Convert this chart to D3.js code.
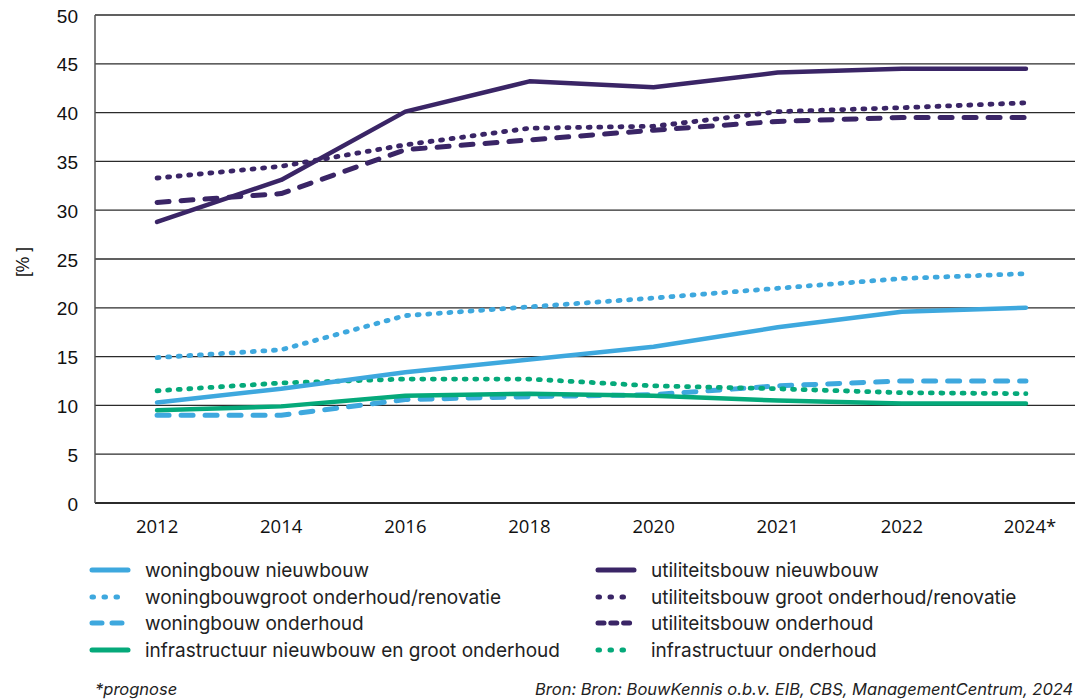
<!DOCTYPE html>
<html>
<head>
<meta charset="utf-8">
<script src="https://cdn.jsdelivr.net/npm/d3@7"></script>
<style>
  html, body { margin: 0; padding: 0; background: #fff; overflow: hidden; }
  svg { display: block; }
</style>
</head>
<body>
<svg id="chart" width="1075" height="699"></svg>
<script>
// Categories (years) and tick values
const years = ["2012", "2014", "2016", "2018", "2020", "2021", "2022", "2024*"];
const yTicks = [0, 5, 10, 15, 20, 25, 30, 35, 40, 45, 50];

// Series values (%)
const woningbouwNieuwbouw      = [10.3, 11.7, 13.4, 14.7, 16.0, 18.0, 19.6, 20.0];
const woningbouwGrootOnderhoud = [14.9, 15.7, 19.2, 20.1, 21.0, 22.0, 23.0, 23.5];
const woningbouwOnderhoud      = [9.0, 9.0, 10.6, 10.9, 11.1, 12.0, 12.5, 12.5];
const infraNieuwbouw           = [9.5, 9.9, 11.0, 11.2, 11.0, 10.5, 10.2, 10.2];
const utilNieuwbouw            = [28.8, 33.1, 40.1, 43.2, 42.6, 44.1, 44.5, 44.5];
const utilGrootOnderhoud       = [33.3, 34.5, 36.7, 38.4, 38.6, 40.1, 40.5, 41.0];
const utilOnderhoud            = [30.8, 31.7, 36.2, 37.2, 38.2, 39.1, 39.5, 39.5];
const infraOnderhoud           = [11.5, 12.3, 12.7, 12.7, 12.0, 11.7, 11.3, 11.2];

const legendLeft  = ["woningbouw nieuwbouw", "woningbouwgroot onderhoud/renovatie", "woningbouw onderhoud", "infrastructuur nieuwbouw en groot onderhoud"];
const legendRight = ["utiliteitsbouw nieuwbouw", "utiliteitsbouw groot onderhoud/renovatie", "utiliteitsbouw onderhoud", "infrastructuur onderhoud"];

const LIGHT = "#3ea8de", DARK = "#3a2566", GREEN = "#05a97a";

const series = [
  { name: legendLeft[0],  values: woningbouwNieuwbouw,      color: LIGHT, style: "solid" },
  { name: legendLeft[1],  values: woningbouwGrootOnderhoud, color: LIGHT, style: "dot" },
  { name: legendLeft[2],  values: woningbouwOnderhoud,      color: LIGHT, style: "dash" },
  { name: legendLeft[3],  values: infraNieuwbouw,           color: GREEN, style: "solid" },
  { name: legendRight[0], values: utilNieuwbouw,            color: DARK,  style: "solid" },
  { name: legendRight[1], values: utilGrootOnderhoud,       color: DARK,  style: "dot" },
  { name: legendRight[2], values: utilOnderhoud,            color: DARK,  style: "dash" },
  { name: legendRight[3], values: infraOnderhoud,           color: GREEN, style: "dot" }
];

const svg = d3.select("#chart");
const plotLeft = 95, plotTop = 15, plotBottom = 503, plotRight = 1075;

const x = d3.scalePoint().domain(years).range([plotLeft, 1088]).padding(0.5);
const y = d3.scaleLinear().domain([0, 50]).range([plotBottom, plotTop]);

// Gridlines
svg.append("g").selectAll("line").data(yTicks).join("line")
  .attr("x1", plotLeft).attr("x2", plotRight)
  .attr("y1", d => y(d)).attr("y2", d => y(d))
  .attr("stroke", "#2b2b2b").attr("stroke-width", d => d === 0 ? 1.8 : 1.3);

// Left axis line
svg.append("line").attr("x1", plotLeft).attr("x2", plotLeft)
  .attr("y1", plotTop).attr("y2", plotBottom)
  .attr("stroke", "#555").attr("stroke-width", 1.5);

// Y tick labels
svg.append("g").selectAll("text").data(yTicks).join("text")
  .attr("x", 78).attr("y", d => y(d) + 7.5)
  .attr("text-anchor", "end")
  .attr("font-family", "Liberation Sans, Arial, sans-serif")
  .attr("font-size", 19).attr("fill", "#111")
  .text(d => d);

// X tick labels
svg.append("g").selectAll("text").data(years).join("text")
  .attr("x", d => x(d) + (d.endsWith("*") ? 4 : 0)).attr("y", 533)
  .attr("text-anchor", "middle")
  .attr("font-family", "Open Sans, sans-serif")
  .attr("font-size", 18.5).attr("fill", "#111")
  .text(d => d);

// Y axis title
svg.append("text")
  .attr("transform", "translate(29,262) rotate(-90)")
  .attr("text-anchor", "middle")
  .attr("font-family", "Liberation Sans, Arial, sans-serif")
  .attr("font-size", 17.5).attr("fill", "#111")
  .text("[% ]");

function styleLine(sel, s) {
  sel.attr("fill", "none").attr("stroke", s.color)
    .attr("stroke-linejoin", "round");
  if (s.style === "solid") {
    sel.attr("stroke-width", 4.5).attr("stroke-linecap", "round");
  } else if (s.style === "dot") {
    sel.attr("stroke-width", 4.8).attr("stroke-linecap", "round")
      .attr("stroke-dasharray", "2 8.6");
  } else {
    sel.attr("stroke-width", 5).attr("stroke-linecap", "round")
      .attr("stroke-dasharray", "12 12");
  }
  return sel;
}

const line = d3.line()
  .x((d, i) => x(years[i]))
  .y(d => y(d))
  .curve(d3.curveLinear);

// Series lines (light/green first, dark on top)
const drawOrder = [2, 3, 7, 0, 1, 6, 5, 4];
drawOrder.forEach(i => {
  const s = series[i];
  styleLine(svg.append("path").attr("d", line(s.values)), s);
});

// Legend
function legendItem(s, lx, ly, tx) {
  const iconW = 38;
  const l = svg.append("line")
    .attr("x1", lx + 2).attr("x2", lx + iconW)
    .attr("y1", ly).attr("y2", ly);
  if (s.style === "solid") {
    l.attr("stroke", s.color).attr("stroke-width", 5).attr("stroke-linecap", "round");
  } else if (s.style === "dot") {
    l.attr("stroke", s.color).attr("stroke-width", 5).attr("stroke-linecap", "round")
      .attr("stroke-dasharray", "1.5 10.5");
  } else {
    l.attr("stroke", s.color).attr("stroke-width", 5).attr("stroke-linecap", "round")
      .attr("stroke-dasharray", s.color === DARK ? "6 6.8" : "10 10");
  }
  svg.append("text").attr("x", tx).attr("y", ly + 6.5)
    .attr("font-family", "Inter, sans-serif")
    .attr("font-size", 19).attr("fill", "#222")
    .text(s.name);
}
const rowY = [570, 597, 623, 650];
series.slice(0, 4).forEach((s, i) => legendItem(s, 90, rowY[i], 145));
series.slice(4).forEach((s, i) => legendItem(s, 596, rowY[i], 651));

// Footnotes
svg.append("text").attr("x", 95).attr("y", 695)
  .attr("font-family", "Inter, sans-serif").attr("font-style", "italic")
  .attr("font-size", 16.5).attr("fill", "#222")
  .text("*prognose");
svg.append("text").attr("x", 535).attr("y", 695)
  .attr("font-family", "Inter, sans-serif").attr("font-style", "italic")
  .attr("font-size", 16.5).attr("fill", "#222")
  .text("Bron: Bron: BouwKennis o.b.v. EIB, CBS, ManagementCentrum, 2024");
</script>
</body>
</html>
